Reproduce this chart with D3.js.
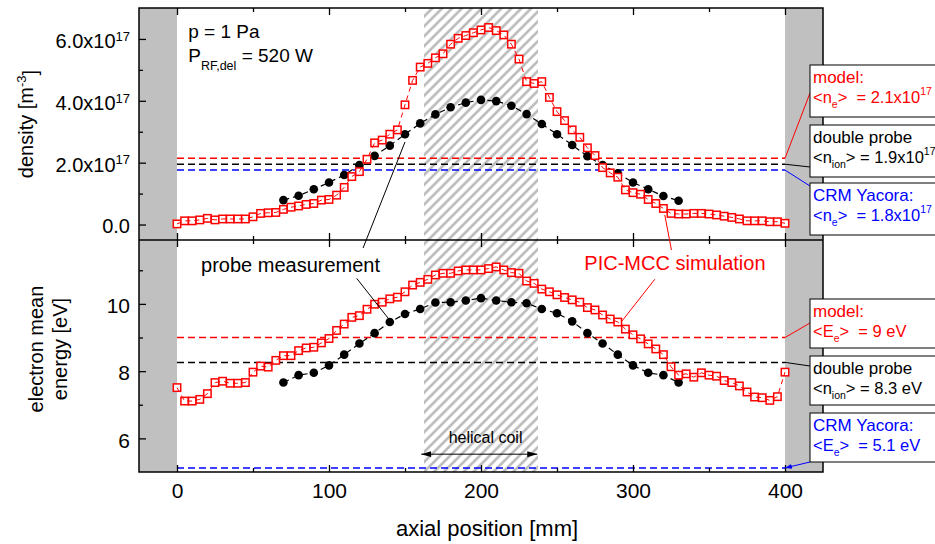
<!DOCTYPE html>
<html>
<head>
<meta charset="utf-8">
<script src="https://cdn.jsdelivr.net/npm/d3@7"></script>
<style>
  body { margin: 0; background: #fff; }
  svg  { display: block; font-family: Arial, "Liberation Sans", sans-serif; }
  text { white-space: pre; }
</style>
</head>
<body>
<svg id="chart" width="935" height="544"></svg>
<script>
/************************************
 * axial profiles: density + mean energy
 ************************************/

// ---- DATA ----
// PIC-MCC simulation grid (mm)
const simPos = [
  0, 5, 10, 15, 20, 25, 30, 35, 40, 45, 50, 55, 60, 65, 70, 75, 80, 85, 90, 95,
  100, 105, 110, 115, 120, 125, 130, 135, 140, 145, 150, 155, 160, 165, 170, 175, 180, 185, 190, 195,
  200, 205, 210, 215, 220, 225, 230, 235, 240, 245, 250, 255, 260, 265, 270, 275, 280, 285, 290, 295,
  300, 305, 310, 315, 320, 325, 330, 335, 340, 345, 350, 355, 360, 365, 370, 375, 380, 385, 390, 395,
  400
];
// electron density, units of 1e17 m^-3
const simDensity = [
  0.02, 0.12, 0.12, 0.15, 0.20, 0.15, 0.18, 0.18, 0.18, 0.18, 0.25, 0.36, 0.38, 0.39, 0.49, 0.56, 0.60, 0.65, 0.68, 0.79,
  0.81, 0.95, 1.20, 1.55, 1.71, 2.11, 2.64, 2.73, 2.92, 3.06, 3.87, 4.66, 5.09, 5.21, 5.39, 5.52, 5.83, 6.02, 6.11, 6.20,
  6.29, 6.37, 6.27, 6.13, 5.83, 5.35, 4.62, 4.56, 4.62, 4.11, 3.65, 3.36, 3.06, 2.82, 2.48, 2.23, 1.84, 1.67, 1.53, 1.12,
  1.03, 0.98, 0.81, 0.68, 0.52, 0.36, 0.34, 0.34, 0.36, 0.36, 0.34, 0.31, 0.27, 0.23, 0.18, 0.12, 0.12, 0.12, 0.09, 0.09,
  0.04
];
// electron mean energy, eV
const simEnergy = [
  7.51, 7.11, 7.11, 7.16, 7.33, 7.66, 7.70, 7.64, 7.64, 7.66, 7.97, 8.15, 8.12, 8.32, 8.46, 8.46, 8.61, 8.69, 8.71, 8.84,
  8.97, 9.21, 9.40, 9.60, 9.65, 9.84, 9.99, 10.05, 10.15, 10.20, 10.36, 10.56, 10.64, 10.73, 10.86, 10.91, 10.91, 10.98, 11.01, 11.01,
  11.01, 11.05, 11.10, 11.01, 10.93, 10.91, 10.68, 10.61, 10.44, 10.36, 10.27, 10.19, 10.12, 10.05, 9.89, 9.82, 9.67, 9.55, 9.46, 9.25,
  9.08, 8.96, 8.81, 8.66, 8.49, 8.13, 7.88, 7.92, 7.82, 7.95, 7.88, 7.85, 7.72, 7.66, 7.56, 7.38, 7.23, 7.21, 7.13, 7.24,
  7.97
];

// double probe measurement
const probePos = [70, 80, 90, 100, 110, 120, 130, 140, 150, 160, 170, 180, 190, 200,
                  210, 220, 230, 240, 250, 260, 270, 280, 290, 300, 310, 320, 330];
const probeDensity = [0.79, 0.93, 1.14, 1.36, 1.60, 1.92, 2.22, 2.55, 2.92, 3.27, 3.56, 3.79, 3.94, 4.03,
                      3.99, 3.84, 3.57, 3.25, 2.92, 2.57, 2.21, 1.92, 1.66, 1.36, 1.14, 0.92, 0.77];
const probeEnergy  = [7.66, 7.88, 7.95, 8.17, 8.49, 8.82, 9.13, 9.46, 9.70, 9.85, 10.04, 10.05, 10.10, 10.17,
                      10.10, 10.05, 10.02, 9.85, 9.72, 9.48, 9.13, 8.82, 8.49, 8.17, 7.95, 7.88, 7.66];

// averages (model, double probe, CRM Yacora)
const densityRefs = [2.14, 1.95, 1.76];
const energyRefs  = [9.0, 8.26, 5.12];

const densityLegend = [
  { name: "model:",       sym: "n", sub: "e",   value: "  = 2.1x10", sup: "17" },
  { name: "double probe", sym: "n", sub: "ion", value: " = 1.9x10",  sup: "17" },
  { name: "CRM Yacora:",  sym: "n", sub: "e",   value: "  = 1.8x10", sup: "17" }
];
const energyLegend = [
  { name: "model:",       sym: "E", sub: "e",   value: "  = 9 eV" },
  { name: "double probe", sym: "n", sub: "ion", value: " = 8.3 eV" },
  { name: "CRM Yacora:",  sym: "E", sub: "e",   value: "  = 5.1 eV" }
];

// axis ticks
const xMajor = [0, 100, 200, 300, 400];
const xMinor = [50, 150, 250, 350];
const denMajor = [0, 2, 4, 6];
const denMinor = [1, 3, 5];
const enMajor = [6, 8, 10];
const enMinor = [7, 9, 11];

// chamber walls and coil (mm)
const wallZones = [[-25, 0], [400, 425]];
const coilZone  = [162.5, 237.5];
const coilArrow = [160.7, 237];

// ---- LAYOUT / STYLE ----
const frame = { left: 139, right: 823, top: 8, mid: 240, bottom: 472 };
const refColors = ["#ff0000", "#000000", "#0000ff"];
const red = "#ff0000";

const svg = d3.select("#chart");
const defs = svg.append("defs");

// scales
const x = d3.scaleLinear().domain([-25, 425]).range([frame.left, frame.right]);
const yDen = d3.scaleLinear().domain([-0.5, 7.0]).range([frame.mid, frame.top]);
const yEn  = d3.scaleLinear().domain([5, 11.9]).range([frame.bottom, frame.mid]);

// hatch pattern for the coil
defs.append("pattern")
    .attr("id", "hatch")
    .attr("patternUnits", "userSpaceOnUse")
    .attr("width", 7).attr("height", 7)
    .attr("patternTransform", "rotate(45)")
  .append("line")
    .attr("x1", 3.5).attr("y1", 0).attr("x2", 3.5).attr("y2", 7)
    .attr("stroke", "#b5b5b5").attr("stroke-width", 2.4);

// arrow heads
defs.append("marker")
    .attr("id", "arrow")
    .attr("markerUnits", "userSpaceOnUse")
    .attr("markerWidth", 10).attr("markerHeight", 8)
    .attr("refX", 10).attr("refY", 4)
    .attr("orient", "auto-start-reverse")
  .append("path").attr("d", "M0,1 L10,4 L0,7 Z").attr("fill", "#000");
defs.append("marker")
    .attr("id", "arrowBlue")
    .attr("markerUnits", "userSpaceOnUse")
    .attr("markerWidth", 7).attr("markerHeight", 6)
    .attr("refX", 7).attr("refY", 3)
    .attr("orient", "auto")
  .append("path").attr("d", "M0,0.5 L7,3 L0,5.5 Z").attr("fill", "#0000ff");

// 1) BACKGROUND ZONES
wallZones.forEach(z => {
  svg.append("rect")
    .attr("x", x(z[0])).attr("y", frame.top)
    .attr("width", x(z[1]) - x(z[0]))
    .attr("height", frame.bottom - frame.top)
    .attr("fill", "#c0c0c0");
});
svg.append("rect")
  .attr("x", x(coilZone[0])).attr("y", frame.top)
  .attr("width", x(coilZone[1]) - x(coilZone[0]))
  .attr("height", frame.bottom - frame.top)
  .attr("fill", "url(#hatch)");

// 2) PANELS
function drawPanel(yScale, simVals, probeVals, refs) {
  const g = svg.append("g");

  // reference averages
  refs.forEach((v, i) => {
    g.append("line")
      .attr("x1", x(0)).attr("x2", x(400))
      .attr("y1", yScale(v)).attr("y2", yScale(v))
      .attr("stroke", refColors[i])
      .attr("stroke-width", 1.5)
      .attr("stroke-dasharray", "7,4");
  });

  const sim = simPos.map((p, i) => ({ pos: p, val: simVals[i] }));
  const probe = probePos.map((p, i) => ({ pos: p, val: probeVals[i] }));

  const lineGen = d3.line()
    .x(d => x(d.pos))
    .y(d => yScale(d.val));

  // probe: dashed line + filled dots
  g.append("path")
    .datum(probe)
    .attr("fill", "none")
    .attr("stroke", "#000")
    .attr("stroke-width", 1.2)
    .attr("stroke-dasharray", "6,4")
    .attr("d", lineGen);
  g.selectAll(".dot")
    .data(probe)
    .enter()
    .append("circle")
      .attr("class", "dot")
      .attr("r", 4.3)
      .attr("cx", d => x(d.pos))
      .attr("cy", d => yScale(d.val))
      .attr("fill", "#000");

  // simulation: open squares + dashed line
  g.selectAll(".sq")
    .data(sim)
    .enter()
    .append("rect")
      .attr("class", "sq")
      .attr("x", d => x(d.pos) - 3.7)
      .attr("y", d => yScale(d.val) - 3.7)
      .attr("width", 7.4).attr("height", 7.4)
      .attr("fill", "#fff")
      .attr("stroke", red)
      .attr("stroke-width", 1.5);
  g.append("path")
    .datum(sim)
    .attr("fill", "none")
    .attr("stroke", red)
    .attr("stroke-width", 1)
    .attr("stroke-dasharray", "5,4")
    .attr("d", lineGen);
}

drawPanel(yDen, simDensity, probeDensity, densityRefs);
drawPanel(yEn, simEnergy, probeEnergy, energyRefs);

// 3) FRAME
svg.append("rect")
  .attr("x", frame.left).attr("y", frame.top)
  .attr("width", frame.right - frame.left)
  .attr("height", frame.bottom - frame.top)
  .attr("fill", "none").attr("stroke", "#000").attr("stroke-width", 1.5);
svg.append("line")
  .attr("x1", frame.left).attr("x2", frame.right)
  .attr("y1", frame.mid).attr("y2", frame.mid)
  .attr("stroke", "#000").attr("stroke-width", 1.5);

// 4) AXES (ticks point inward)
function tickAxis(axis, values, size, transform) {
  const g = svg.append("g")
    .attr("transform", transform)
    .call(axis.tickValues(values).tickSize(size).tickSizeOuter(0).tickFormat(""));
  g.select(".domain").remove();
  g.selectAll("line").attr("stroke-width", 1.3);
  return g;
}

// x ticks: top edge, middle (both ways), bottom
[[d3.axisBottom, frame.top], [d3.axisTop, frame.mid], [d3.axisBottom, frame.mid]].forEach(([mk, yy]) => {
  tickAxis(mk(x), xMajor, 7, `translate(0,${yy})`);
  tickAxis(mk(x), xMinor, 4, `translate(0,${yy})`);
});
tickAxis(d3.axisBottom(x), xMinor, -4, `translate(0,${frame.bottom})`);

// bottom axis with labels
const xAxisG = svg.append("g")
  .attr("transform", `translate(0,${frame.bottom})`)
  .call(d3.axisBottom(x).tickValues(xMajor).tickSize(-7).tickSizeOuter(0).tickPadding(11)
        .tickFormat(d3.format("d")));
xAxisG.select(".domain").remove();
xAxisG.selectAll("line").attr("stroke-width", 1.3);
xAxisG.attr("font-family", null).attr("font-size", null);
xAxisG.selectAll("text").attr("font-size", 21).attr("fill", "#000");

// density axis
tickAxis(d3.axisLeft(yDen), denMinor, -4, `translate(${frame.left},0)`);
const denAxisG = svg.append("g")
  .attr("transform", `translate(${frame.left},0)`)
  .call(d3.axisLeft(yDen).tickValues(denMajor).tickSize(-7).tickSizeOuter(0).tickPadding(9)
        .tickFormat(d => d === 0 ? "0.0" : d.toFixed(1) + "x10"));
denAxisG.select(".domain").remove();
denAxisG.selectAll("line").attr("stroke-width", 1.3);
denAxisG.attr("font-family", null).attr("font-size", null);
denAxisG.selectAll("text")
  .attr("font-size", 20).attr("fill", "#000").attr("dy", "0.42em")
  .filter(d => d !== 0)
  .append("tspan").attr("dy", "-0.55em").attr("font-size", 13).text("17");

// energy axis
tickAxis(d3.axisLeft(yEn), enMinor, -4, `translate(${frame.left},0)`);
const enAxisG = svg.append("g")
  .attr("transform", `translate(${frame.left},0)`)
  .call(d3.axisLeft(yEn).tickValues(enMajor).tickSize(-7).tickSizeOuter(0).tickPadding(9)
        .tickFormat(d3.format("d")));
enAxisG.select(".domain").remove();
enAxisG.selectAll("line").attr("stroke-width", 1.3);
enAxisG.attr("font-family", null).attr("font-size", null);
enAxisG.selectAll("text").attr("font-size", 21).attr("fill", "#000").attr("dy", "0.42em");

// 5) AXIS TITLES
svg.append("text")
  .attr("x", (frame.left + frame.right) / 2 + 6)
  .attr("y", 536)
  .attr("text-anchor", "middle")
  .attr("font-size", 22)
  .text("axial position [mm]");

const denTitle = svg.append("text")
  .attr("transform", "translate(33,124) rotate(-90)")
  .attr("text-anchor", "middle")
  .attr("font-size", 20);
denTitle.append("tspan").text("density [m");
denTitle.append("tspan").attr("dy", "-0.55em").attr("font-size", 13).text("-3");
denTitle.append("tspan").attr("dy", "0.55em").text("]");

svg.append("text")
  .attr("transform", "translate(43,349) rotate(-90)")
  .attr("text-anchor", "middle").attr("font-size", 20)
  .text("electron mean");
svg.append("text")
  .attr("transform", "translate(67,349) rotate(-90)")
  .attr("text-anchor", "middle").attr("font-size", 20)
  .text("energy [eV]");

// 6) ANNOTATIONS
svg.append("text")
  .attr("x", x(7.4)).attr("y", yDen(6.02))
  .attr("font-size", 19)
  .text("p = 1 Pa");
const pText = svg.append("text")
  .attr("x", x(7.4)).attr("y", yDen(5.25))
  .attr("font-size", 19);
pText.append("tspan").text("P");
pText.append("tspan").attr("dy", 8).attr("font-size", 12.5).text("RF,del");
pText.append("tspan").attr("dy", -8).text(" = 520 W");

svg.append("text")
  .attr("x", x(15.8)).attr("y", yEn(10.96))
  .attr("font-size", 20)
  .text("probe measurement");
svg.append("text")
  .attr("x", x(268)).attr("y", yEn(11.01))
  .attr("font-size", 20).attr("fill", red)
  .text("PIC-MCC simulation");

// pointer lines
const pointers = [
  { from: [122.4, yEn(11.66)], to: [150, yDen(2.67)], color: "#000" },
  { from: [118.2, yEn(10.76)], to: [139, yEn(9.57)], color: "#000" },
  { from: [325.3, yEn(11.6)],  to: [320.9, yDen(0.31)], color: red },
  { from: [314.3, yEn(10.73)], to: [292.4, yEn(9.47)], color: red }
];
pointers.forEach(p => {
  svg.append("line")
    .attr("x1", x(p.from[0])).attr("y1", p.from[1])
    .attr("x2", x(p.to[0])).attr("y2", p.to[1])
    .attr("stroke", p.color).attr("stroke-width", 1);
});

// helical coil arrow
svg.append("line")
  .attr("x1", x(coilArrow[0])).attr("x2", x(coilArrow[1]))
  .attr("y1", yEn(5.53)).attr("y2", yEn(5.53))
  .attr("stroke", "#000").attr("stroke-width", 1)
  .attr("marker-start", "url(#arrow)")
  .attr("marker-end", "url(#arrow)");
svg.append("text")
  .attr("x", x(203)).attr("y", yEn(5.85))
  .attr("text-anchor", "middle").attr("font-size", 16)
  .text("helical coil");

// 7) LEGEND BOXES
function drawLegend(items, refs, yScale, boxTops, boxH, anchors, arrowIdx) {
  const bx = 810;
  items.forEach((d, i) => {
    const top = boxTops[i];
    // connector from average line end to box
    svg.append("line")
      .attr("x1", bx).attr("y1", top + anchors[i])
      .attr("x2", x(400)).attr("y2", yScale(refs[i]))
      .attr("stroke", refColors[i]).attr("stroke-width", 1)
      .attr("marker-end", i === arrowIdx ? "url(#arrowBlue)" : null);

    svg.append("rect")
      .attr("x", bx).attr("y", top)
      .attr("width", 150).attr("height", boxH)
      .attr("fill", "#fff").attr("stroke", "#000").attr("stroke-width", 1);

    svg.append("text")
      .attr("x", bx + 3).attr("y", top + 17.5)
      .attr("font-size", 17).attr("fill", refColors[i])
      .text(d.name);

    const t = svg.append("text")
      .attr("x", bx + 3).attr("y", top + 38)
      .attr("font-size", 16.5).attr("fill", refColors[i]);
    t.append("tspan").text("<" + d.sym);
    t.append("tspan").attr("dy", 5).attr("font-size", 10.5).text(d.sub);
    t.append("tspan").attr("dy", -5).text(">" + d.value);
    if (d.sup) t.append("tspan").attr("dy", -8).attr("font-size", 10.5).text(d.sup);
  });
}

drawLegend(densityLegend, densityRefs, yDen, [65, 125, 183], 52, [28, 42, 3], -1);
drawLegend(energyLegend, energyRefs, yEn, [299, 356, 413], 49, [24, 10, 49], 2);
</script>
</body>
</html>
